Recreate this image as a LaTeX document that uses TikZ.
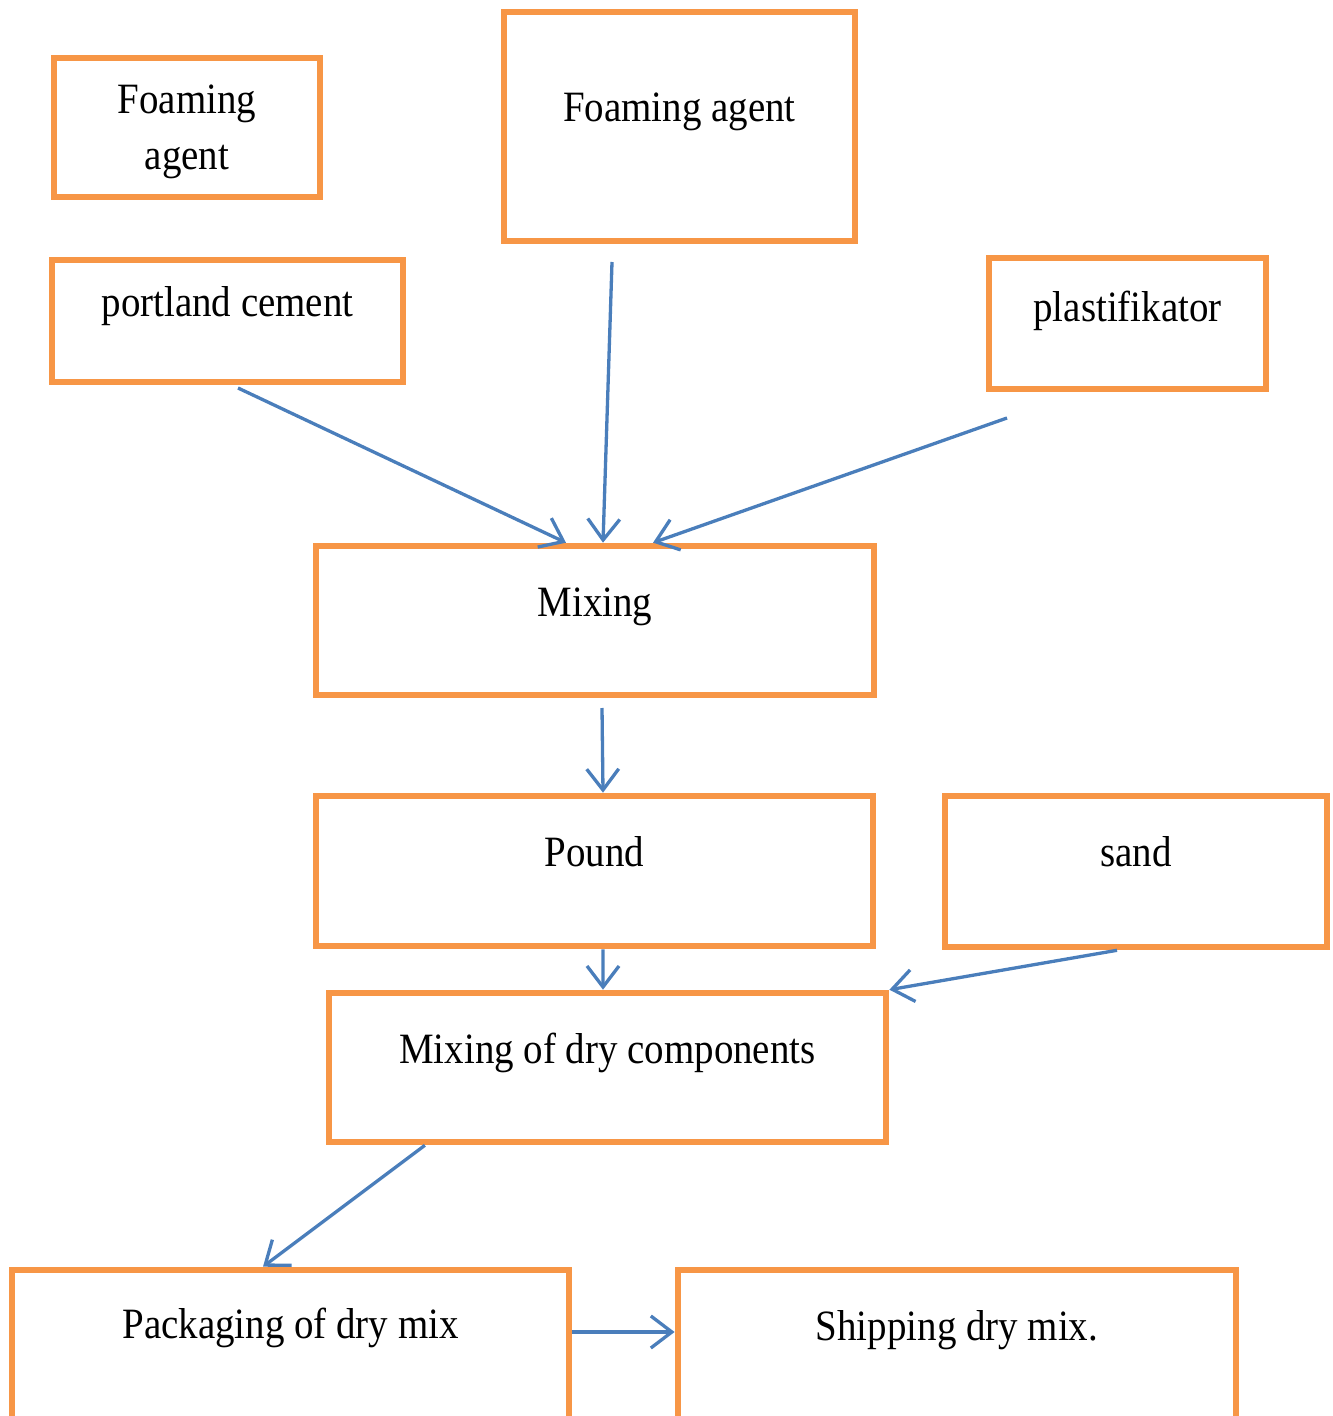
\documentclass[tikz,border=0pt]{standalone}
\usepackage{fontspec}
\setmainfont{Liberation Serif}[FakeStretch=0.9]
\usepackage{tikz}
\usetikzlibrary{arrows.meta,positioning,calc}
\usepackage{xcolor}
\definecolor{boxorange}{RGB}{247,150,70}
\definecolor{flowblue}{RGB}{74,126,187}

\begin{document}
\begin{tikzpicture}[
  x=0.01cm, y=-0.01cm,
  font=\fontsize{12.3pt}{16pt}\selectfont,
  stage/.style={draw=boxorange, line width=0.065cm, fill=white,
                inner sep=0pt},
  lbl/.style={anchor=base, align=center, inner sep=0pt},
  flow/.style={-{Straight Barb[length=0.21cm, width=0.32cm]},
               draw=flowblue, line width=0.033cm},
]

\clip (0,0) rectangle (1332,1416);

%% ---- INPUT BOXES ----
\node[stage, minimum width=2.66cm, minimum height=1.39cm] (fa1) at (187, 127.5) {};
\node[lbl] (fa1-t) at ([yshift=-1.15cm]fa1.north) {Foaming\\agent};

\node[stage, minimum width=3.51cm, minimum height=2.29cm] (fa2) at (679.5, 126.5) {};
\node[lbl] (fa2-t) at ([yshift=-1.13cm]fa2.north) {Foaming agent};

\node[stage, minimum width=3.51cm, minimum height=1.22cm] (pc) at (227.5, 321) {};
\node[lbl] (pc-t) at ([yshift=-0.60cm]pc.north) {portland cement};

\node[stage, minimum width=2.77cm, minimum height=1.31cm] (pl) at (1127.5, 323.5) {};
\node[lbl] (pl-t) at ([yshift=-0.67cm]pl.north) {plastifikator};

%% ---- PROCESS BOXES ----
\node[stage, minimum width=5.58cm, minimum height=1.49cm] (mix) at (595, 620.5) {};
\node[lbl] (mix-t) at ([yshift=-0.74cm]mix.north) {Mixing};

\node[stage, minimum width=5.57cm, minimum height=1.50cm] (pound) at (594.5, 871) {};
\node[lbl] (pound-t) at ([yshift=-0.74cm]pound.north) {Pound};

\node[stage, minimum width=3.82cm, minimum height=1.51cm] (sand) at (1136, 871.5) {};
\node[lbl] (sand-t) at ([yshift=-0.74cm]sand.north) {sand};

\node[stage, minimum width=5.57cm, minimum height=1.49cm] (dry) at (607.5, 1067.5) {};
\node[lbl] (dry-t) at ([yshift=-0.74cm]dry.north) {Mixing of dry components};

\node[stage, minimum width=5.57cm, minimum height=1.80cm] (pack) at (290.5, 1360) {};
\node[lbl] (pack-t) at ([yshift=-0.72cm]pack.north) {Packaging of dry mix};

\node[stage, minimum width=5.58cm, minimum height=1.80cm] (ship) at (957, 1360) {};
\node[lbl] (ship-t) at ([yshift=-0.74cm]ship.north) {Shipping dry mix.};

%% ---- free arrow tails ----
\coordinate (pc-out)  at (238, 388);
\coordinate (fa2-out) at (612, 262);
\coordinate (pl-out)  at (1007, 418);
\coordinate (mix-out) at (602, 708);

%% ---- ARROWS ----
\draw[flow] (pc-out)  -- ([xshift=-0.29cm]mix.north);
\draw[flow] (fa2-out) -- ([xshift=0.08cm]mix.north);
\draw[flow] (pl-out)  -- ([xshift=0.58cm]mix.north);
\draw[flow] (mix-out) -- ([xshift=0.085cm]pound.north);
\draw[flow] ([xshift=0.085cm]pound.south) -- ([xshift=-0.045cm]dry.north);
\draw[flow] ([xshift=-0.19cm]sand.south) -- (dry.north east);
\draw[flow] ([xshift=-1.825cm]dry.south) -- ([xshift=-0.275cm]pack.north);
\draw[flow] ([yshift=0.28cm]pack.east) -- ([yshift=0.28cm]ship.west);

\end{tikzpicture}
\end{document}
